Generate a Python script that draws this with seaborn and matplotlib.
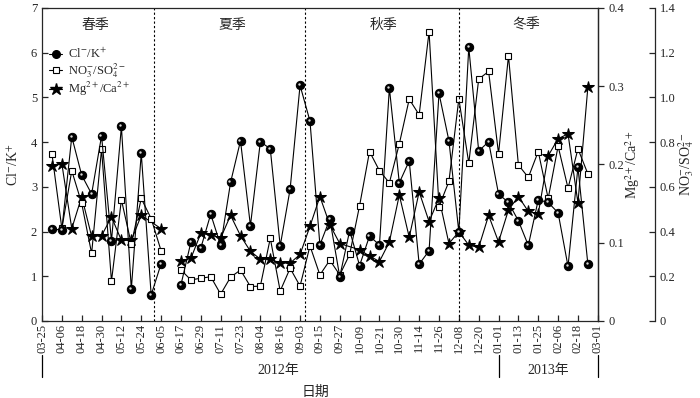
import numpy as np
import pandas as pd
import matplotlib
matplotlib.use('Agg')
import matplotlib.pyplot as plt
from matplotlib.lines import Line2D
from matplotlib.transforms import offset_copy, blended_transform_factory
import seaborn as sns

# =============================================================================
# DATA
# =============================================================================
# x axis is a sample index on the date-tick scale (one tick = 2 samples)
date_ticks = ['03-25', '04-06', '04-18', '04-30', '05-12', '05-24', '06-05',
              '06-17', '06-29', '07-11', '07-23', '08-04', '08-16', '09-03',
              '09-15', '09-27', '10-09', '10-21', '10-30', '11-14', '11-26',
              '12-08', '12-20', '01-01', '01-13', '01-25', '02-06', '02-18',
              '03-01']

# spring block: 0.5 .. 6.0, then the rest: 7.0 .. 27.5 (no sample at 6.5)
positions = list(np.arange(0.5, 6.01, 0.5)) + list(np.arange(7.0, 27.51, 0.5))
segment = [0] * 12 + [1] * 42

cl_k = [2.05, 2.04, 4.12, 3.26, 2.84, 4.14, 1.79, 4.35, 0.71, 3.75, 0.58, 1.28,
        0.81, 1.76, 1.63, 2.39, 1.69, 3.10, 4.03, 2.13, 4.01, 3.85, 1.68, 2.95,
        5.27, 4.47, 1.70, 2.28, 0.99, 2.02, 1.24, 1.90, 1.70, 5.21, 3.09, 3.58,
        1.27, 1.57, 5.09, 4.03, 1.99, 6.12, 3.80, 4.01, 2.84, 2.65, 2.24, 1.69,
        2.71, 2.65, 2.42, 1.22, 3.44, 1.27]

no3_so4 = [0.748, 0.414, 0.672, 0.526, 0.302, 0.768, 0.178, 0.542, 0.344, 0.548, 0.458, 0.314,
           0.228, 0.184, 0.191, 0.198, 0.120, 0.196, 0.228, 0.154, 0.156, 0.370, 0.134, 0.236,
           0.156, 0.336, 0.206, 0.272, 0.206, 0.298, 0.516, 0.758, 0.672, 0.618, 0.792, 0.992,
           0.922, 1.294, 0.512, 0.624, 0.994, 0.706, 1.082, 1.116, 0.748, 1.186, 0.698, 0.642,
           0.758, 0.548, 0.782, 0.594, 0.770, 0.658]

mg_ca = [0.198, 0.201, 0.118, 0.159, 0.108, 0.109, 0.133, 0.103, 0.103, 0.135, np.nan, 0.118,
         0.077, 0.080, 0.112, 0.110, 0.106, 0.135, 0.109, 0.089, 0.079, 0.079, 0.074, 0.074,
         0.085, 0.121, 0.159, 0.123, 0.099, np.nan, 0.091, 0.083, 0.076, 0.101, 0.161, 0.107,
         0.165, 0.127, 0.157, 0.099, 0.114, 0.097, 0.094, 0.135, 0.101, 0.142, 0.159, 0.140,
         0.137, 0.211, 0.233, 0.239, 0.151, 0.299]

seasons = ['春季', '夏季', '秋季', '冬季']
season_centers = [2.7, 9.6, 17.2, 24.4]
season_bounds = [5.65, 13.25, 21.0]

# =============================================================================
# STYLE
# =============================================================================
sns.set_style('ticks')
plt.rcParams['font.family'] = ['Liberation Serif', 'Noto Sans CJK SC', 'DejaVu Sans']
plt.rcParams['mathtext.fontset'] = 'stix'
plt.rcParams['axes.linewidth'] = 0.9
plt.rcParams['xtick.major.width'] = 0.9
plt.rcParams['ytick.major.width'] = 0.9

df = pd.DataFrame({'pos': positions, 'seg': segment,
                   'cl_k': cl_k, 'no3': no3_so4, 'mg': mg_ca})

fig = plt.figure(figsize=(7, 3.98), dpi=100)
ax = fig.add_axes([0.06, 0.1935, 0.794, 0.7865])
ax2 = ax.twinx()
ax3 = ax.twinx()
ax3.spines['right'].set_position(('axes', 1.1025))

# NO3-/SO4 2- (open squares)
sns.lineplot(data=df, x='pos', y='no3', units='seg', estimator=None, ax=ax3,
             color='k', lw=0.8, marker='s', ms=4.5, mfc='white', mec='k',
             mew=0.8, sort=False, legend=False)
# Mg2+/Ca2+ (stars)
sns.lineplot(data=df.dropna(subset=['mg']), x='pos', y='mg', units='seg',
             estimator=None, ax=ax2, color='k', lw=0.8, marker='*', ms=9,
             mfc='k', mec='k', sort=False, legend=False)
# Cl-/K+ (shaded balls)
sns.lineplot(data=df, x='pos', y='cl_k', units='seg', estimator=None, ax=ax,
             color='k', lw=0.8, marker='o', ms=6, mfc='k', mec='k',
             sort=False, legend=False)
shine = offset_copy(ax.transData, fig=fig, x=-1.1, y=1.1, units='dots')
sns.scatterplot(data=df, x='pos', y='cl_k', ax=ax, color='#d8d8d8', s=3,
                linewidth=0, transform=shine, legend=False, zorder=5)

# put the Cl/K axis on top
ax.set_zorder(3)
ax.patch.set_visible(False)

# season separators and names
for b in season_bounds:
    ax.axvline(b, color='k', ls=(0, (2, 2)), lw=0.8)
for name, c in zip(seasons, season_centers):
    ax.text(c, 6.62, name, ha='center', va='center', fontsize=10,
            family=['Noto Sans CJK SC'])

# axes
ax.set_xlim(0, 28)
ax.set_ylim(0, 7)
ax2.set_ylim(0, 0.4)
ax3.set_ylim(0, 1.4)
ax.set_xticks(range(len(date_ticks)))
ax.set_xticklabels(date_ticks, rotation=90, fontsize=9)
ax.set_yticks(range(8))
ax.tick_params(axis='both', direction='in', length=4, labelsize=9)
ax.tick_params(axis='x', pad=2)

fmt = lambda v, p: '0' if v == 0 else '%.1f' % v
ax2.set_yticks([0, 0.1, 0.2, 0.3, 0.4])
ax2.yaxis.set_major_formatter(plt.FuncFormatter(fmt))
ax2.tick_params(axis='y', direction='out', length=4, labelsize=9)
ax3.set_yticks(np.arange(0, 1.41, 0.2))
ax3.yaxis.set_major_formatter(plt.FuncFormatter(fmt))
ax3.tick_params(axis='y', direction='in', length=4, labelsize=9)
for a in (ax2, ax3):
    for s in ('top', 'left', 'bottom'):
        a.spines[s].set_visible(False)
ax3.spines['right'].set_visible(True)
ax2.spines['right'].set_visible(True)

ax.set_xlabel('')
ax.set_ylabel(r'Cl$^{-}$/K$^{+}$', fontsize=10)
ax.yaxis.set_label_coords(-0.038, 0.5)
ax2.set_ylabel(r'Mg$^{2+}$/Ca$^{2+}$', fontsize=10)
ax2.yaxis.set_label_coords(1.045, 0.5)
ax3.set_ylabel(r'NO$_3^{-}$/SO$_4^{2-}$', fontsize=10)
ax3.yaxis.set_label_coords(1.142, 0.5)

# legend
handles = [
    Line2D([], [], color='k', lw=0.8, marker='o', ms=5.5, mfc='k'),
    Line2D([], [], color='k', lw=0.8, marker='s', ms=4.5, mfc='white', mew=0.8),
    Line2D([], [], color='k', lw=0.8, marker='*', ms=9, mfc='k'),
]
labels = [r'Cl$^{-}$/K$^{+}$', r'NO$_3^{-}$/SO$_4^{2-}$', r'Mg$^{2+}$/Ca$^{2+}$']
ax.legend(handles, labels, loc='upper left', bbox_to_anchor=(0.012, 0.875),
          frameon=False, fontsize=9, handlelength=1.1, handletextpad=0.45,
          labelspacing=0.0, borderpad=0.0, borderaxespad=0.0)

# year brackets below the date labels
tr = blended_transform_factory(ax.transData, fig.transFigure)
for xv in (0, 23, 28):
    ax.plot([xv, xv], [0.052, 0.108], color='k', lw=0.9, transform=tr,
            clip_on=False)
ax.text(11.9, 0.07, '2012年', transform=tr, ha='center', va='center', fontsize=10)
ax.text(25.5, 0.07, '2013年', transform=tr, ha='center', va='center', fontsize=10)
fig.text(0.451, 0.016, '日期', ha='center', va='center', fontsize=10,
         family=['Noto Sans CJK SC'])

fig.savefig('out.png', dpi=100)
